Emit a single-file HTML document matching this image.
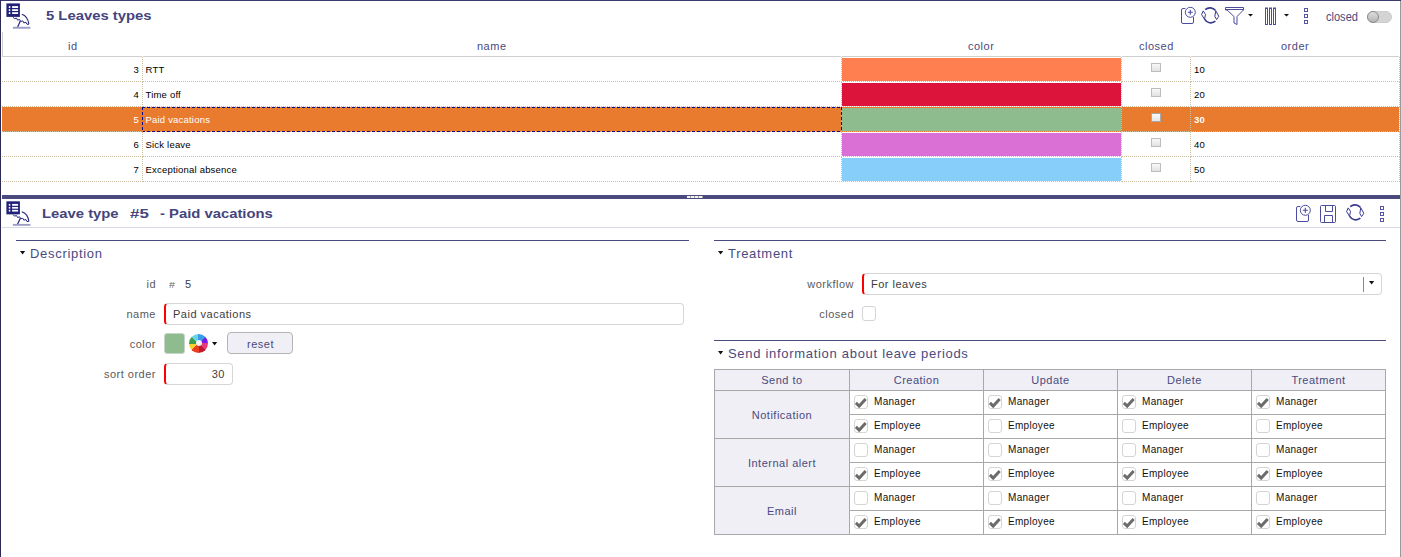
<!DOCTYPE html>
<html><head><meta charset="utf-8">
<style>
*{margin:0;padding:0;box-sizing:border-box}
html,body{width:1401px;height:557px;overflow:hidden;background:#fff;font-family:"Liberation Sans",sans-serif}
.a{position:absolute}
.t{position:absolute;white-space:nowrap;line-height:1}
.hdr{font-size:11px;letter-spacing:0.5px;padding-top:1px;color:#4a4a80}
.cell{font-size:9.5px;letter-spacing:0.2px;color:#000}
.dotv{position:absolute;width:1px;background-image:linear-gradient(#cbc1a2 50%,transparent 50%);background-size:1px 2px}
.doth{position:absolute;height:1px;background-image:linear-gradient(90deg,#cbc1a2 50%,transparent 50%);background-size:2px 1px}
.cb{position:absolute;width:10px;height:9px;border:1px solid #bdbdbd;background:linear-gradient(#f8f8f8,#e2e2e2)}
.lbl{font-size:11px;letter-spacing:0.5px;padding-top:1px;color:#5a5a5a}
.sec{font-size:13px;color:#4a4a80;letter-spacing:0.7px}
.tri{position:absolute;width:0;height:0;border-left:2.5px solid transparent;border-right:2.5px solid transparent;border-top:4px solid #111}
.inp{position:absolute;border:1px solid #d6d6d6;border-radius:3px;background:#fff}
.req{border-left:2px solid #f00;border-radius:4px}
.chk{position:absolute;width:14px;height:14px;border:1px solid #d4d4d4;border-radius:3px;background:#fff}
.ml{font-size:10px;letter-spacing:0.3px;color:#111}
.ttl{font-size:13px;font-weight:bold;color:#45457d;transform:scaleX(1.14);transform-origin:0 0}
</style></head><body>
<svg width="0" height="0" style="position:absolute">
<defs>
<symbol id="logo" viewBox="0 0 30 30" preserveAspectRatio="none">
  <rect x="2.4" y="2.4" width="13.5" height="13.5" fill="#21217a"/>
  <rect x="4.8" y="5.1" width="1.5" height="1.9" fill="#fff"/><rect x="8.1" y="5.1" width="6" height="1.9" fill="#fff"/>
  <rect x="4.8" y="8.2" width="1.5" height="1.8" fill="#fff"/><rect x="8.1" y="8.2" width="6" height="1.8" fill="#fff"/>
  <rect x="4.8" y="11.2" width="1.5" height="1.8" fill="#fff"/><rect x="8.1" y="11.2" width="6" height="1.8" fill="#fff"/>
  <path d="M17.8 13.3 Q23.6 15 24.9 23.2" fill="none" stroke="#25257a" stroke-width="1.1"/>
  <path d="M9.2 16.2 L10.4 17.7 L12.5 17.1 L13.5 19.1 L15.7 18.5 L16.7 20.5 L18.8 19.9 L19.8 21.9 L22.0 21.3 L23.0 23.3 L24.9 23.2" fill="none" stroke="#25257a" stroke-width="1"/>
  <path d="M16.3 19.9 L13.2 26.9" stroke="#25257a" stroke-width="1.2"/>
  <rect x="8.9" y="25.8" width="17.5" height="1.9" fill="#9c9cc8"/>
</symbol>
<symbol id="refresh" viewBox="0 0 26 23">
  <g fill="none" stroke="#3a3a90" stroke-linejoin="round">
   <path d="M7.2 5.6 A7.3 7.3 0 0 1 17.6 6.6" stroke-width="1.6"/>
   <path d="M17.8 6.8 L20.8 12.3 L18.6 15.6 L16.8 12.3 Z" stroke-width="1"/>
   <path d="M17.4 17.2 A7.3 7.3 0 0 1 6.5 15.2" stroke-width="1.6"/>
   <path d="M5.2 6.9 L7.5 10.4 L6.5 15.2 L3.6 10.6 Z" stroke-width="1"/>
  </g>
</symbol>
<symbol id="add" viewBox="0 0 20 21">
  <g fill="none" stroke="#4c4c9e" stroke-width="1">
   <path d="M5.3 4.5 H3 a1.5 1.5 0 0 0 -1.5 1.5 V18 a1.5 1.5 0 0 0 1.5 1.5 H12 a1.5 1.5 0 0 0 1.5 -1.5 V13"/>
   <circle cx="10.3" cy="8.3" r="5"/>
   <path d="M10.3 5.8 V10.8 M7.8 8.3 H12.8" stroke-width="1.1"/>
  </g>
</symbol>
<symbol id="dots" viewBox="0 0 6 18">
  <g fill="none" stroke="#5656a6" stroke-width="1">
   <rect x="0.5" y="0.5" width="3" height="3"/><rect x="0.5" y="6.5" width="3" height="3"/><rect x="0.5" y="12.5" width="3" height="3"/>
  </g>
</symbol>
<symbol id="tick" viewBox="0 0 14 14"><path d="M1.9 7.9 L5.2 11.1 L11.7 4" fill="none" stroke="#6b6b6b" stroke-width="2.9"/></symbol>
</defs></svg>

<div class="a" style="left:0;top:0;width:1401px;height:1px;background:#3a3a6e"></div>
<div class="a" style="left:0;top:0;width:1px;height:557px;background:#2a2a55"></div>
<div class="a" style="left:1400px;top:1px;width:1px;height:556px;background:#9a9a9a"></div>
<svg class="a" style="left:4px;top:1px" width="30" height="30"><use href="#logo"/></svg>
<div class="t ttl" style="left:46px;top:9px">5 Leaves types</div>
<svg class="a" style="left:1178px;top:4px" width="135" height="24" viewBox="0 0 135 24">
  <g fill="none" stroke="#4c4c9e" stroke-width="1">
    <path d="M47.5 3.5 H65.5 V6 L59 12.5 V20.5 L56 19 V12.5 L49 6 H47.5 Z"/>
    <path d="M48 5.5 H65"/>
    <rect x="87.5" y="4" width="2" height="16.5"/>
    <rect x="91.5" y="4" width="2" height="16.5"/>
    <rect x="95.5" y="4" width="2" height="16.5"/>
  </g>
  <path d="M70 10 h5 l-2.5 2.5z M106 10 h5 l-2.5 2.5z" fill="#111"/>
</svg>
<svg class="a" style="left:1180px;top:4px" width="20" height="21"><use href="#add"/></svg>
<svg class="a" style="left:1304px;top:8px" width="6" height="18"><use href="#dots"/></svg>
<svg class="a" style="left:1198px;top:4px" width="26" height="23"><use href="#refresh"/></svg>
<div class="t" style="left:1326px;top:11px;font-size:12px;color:#4a4a80;transform:scaleX(0.92);transform-origin:0 0">closed</div>
<div class="a" style="left:1367px;top:11px;width:25px;height:12px;border-radius:6px;background:#d4d4d4;border:1px solid #cdcdcd"></div>
<div class="a" style="left:1367px;top:11px;width:12px;height:12px;border-radius:50%;background:linear-gradient(#dedede,#b4b4b4);border:1px solid #8a8a8a"></div>
<div class="a" style="left:2px;top:32px;width:1px;height:25px;background:#cfcfcf"></div>
<div class="a" style="left:2px;top:56px;width:1397px;height:1px;background:#cfcfcf"></div>
<div class="a" style="left:142px;top:56px;width:1px;height:1px;background:#fff"></div>
<div class="a" style="left:841px;top:56px;width:1px;height:1px;background:#fff"></div>
<div class="a" style="left:1121px;top:56px;width:1px;height:1px;background:#fff"></div>
<div class="a" style="left:1190px;top:56px;width:1px;height:1px;background:#fff"></div>
<div class="a" style="left:1399px;top:56px;width:1px;height:1px;background:#fff"></div>
<div class="t hdr" style="left:68px;top:40px">id</div>
<div class="t hdr" style="left:477px;top:40px">name</div>
<div class="t hdr" style="left:968px;top:40px">color</div>
<div class="t hdr" style="left:1139px;top:40px">closed</div>
<div class="t hdr" style="left:1281px;top:40px">order</div>
<div class="a" style="left:2px;top:107px;width:1397px;height:25px;background:#e87b2e"></div>
<div class="a" style="left:842px;top:58px;width:279px;height:23px;background:#ff7f50"></div>
<div class="a" style="left:842px;top:83px;width:279px;height:23px;background:#dc143c"></div>
<div class="a" style="left:842px;top:108px;width:279px;height:23px;background:#8fbc8f"></div>
<div class="a" style="left:842px;top:133px;width:279px;height:23px;background:#da70d6"></div>
<div class="a" style="left:842px;top:158px;width:279px;height:23px;background:#87cefa"></div>
<div class="doth" style="left:2px;top:81px;width:140px"></div>
<div class="doth" style="left:143px;top:81px;width:979px"></div>
<div class="doth" style="left:1122px;top:81px;width:69px"></div>
<div class="doth" style="left:1191px;top:81px;width:209px"></div>
<div class="dotv" style="left:142px;top:57px;height:25px"></div>
<div class="dotv" style="left:841px;top:57px;height:25px"></div>
<div class="dotv" style="left:1121px;top:57px;height:25px"></div>
<div class="dotv" style="left:1190px;top:57px;height:25px"></div>
<div class="dotv" style="left:1399px;top:57px;height:25px"></div>
<div class="doth" style="left:2px;top:106px;width:140px"></div>
<div class="doth" style="left:143px;top:106px;width:979px"></div>
<div class="doth" style="left:1122px;top:106px;width:69px"></div>
<div class="doth" style="left:1191px;top:106px;width:209px"></div>
<div class="dotv" style="left:142px;top:82px;height:25px"></div>
<div class="dotv" style="left:841px;top:82px;height:25px"></div>
<div class="dotv" style="left:1121px;top:82px;height:25px"></div>
<div class="dotv" style="left:1190px;top:82px;height:25px"></div>
<div class="dotv" style="left:1399px;top:82px;height:25px"></div>
<div class="doth" style="left:2px;top:131px;width:140px"></div>
<div class="doth" style="left:143px;top:131px;width:979px"></div>
<div class="doth" style="left:1122px;top:131px;width:69px"></div>
<div class="doth" style="left:1191px;top:131px;width:209px"></div>
<div class="dotv" style="left:142px;top:107px;height:25px"></div>
<div class="dotv" style="left:841px;top:107px;height:25px"></div>
<div class="dotv" style="left:1121px;top:107px;height:25px"></div>
<div class="dotv" style="left:1190px;top:107px;height:25px"></div>
<div class="dotv" style="left:1399px;top:107px;height:25px"></div>
<div class="doth" style="left:2px;top:156px;width:140px"></div>
<div class="doth" style="left:143px;top:156px;width:979px"></div>
<div class="doth" style="left:1122px;top:156px;width:69px"></div>
<div class="doth" style="left:1191px;top:156px;width:209px"></div>
<div class="dotv" style="left:142px;top:132px;height:25px"></div>
<div class="dotv" style="left:841px;top:132px;height:25px"></div>
<div class="dotv" style="left:1121px;top:132px;height:25px"></div>
<div class="dotv" style="left:1190px;top:132px;height:25px"></div>
<div class="dotv" style="left:1399px;top:132px;height:25px"></div>
<div class="doth" style="left:2px;top:181px;width:140px"></div>
<div class="doth" style="left:143px;top:181px;width:979px"></div>
<div class="doth" style="left:1122px;top:181px;width:69px"></div>
<div class="doth" style="left:1191px;top:181px;width:209px"></div>
<div class="dotv" style="left:142px;top:157px;height:25px"></div>
<div class="dotv" style="left:841px;top:157px;height:25px"></div>
<div class="dotv" style="left:1121px;top:157px;height:25px"></div>
<div class="dotv" style="left:1190px;top:157px;height:25px"></div>
<div class="dotv" style="left:1399px;top:157px;height:25px"></div>
<div class="a" style="left:142px;top:107px;width:700px;height:1px;background-image:linear-gradient(90deg,#0b0b8a 60%,transparent 60%);background-size:5px 1px"></div>
<div class="a" style="left:142px;top:131px;width:700px;height:1px;background-image:linear-gradient(90deg,#0b0b8a 60%,transparent 60%);background-size:5px 1px"></div>
<div class="a" style="left:142px;top:107px;width:1px;height:25px;background:#e87b2e"></div>
<div class="a" style="left:142px;top:107px;width:1px;height:25px;background-image:linear-gradient(#0b0b8a 60%,transparent 60%);background-size:1px 5px"></div>
<div class="a" style="left:841px;top:107px;width:1px;height:25px;background-image:linear-gradient(#0b0b8a 60%,transparent 60%);background-size:1px 5px"></div>
<div class="t cell" style="right:1262px;top:64.5px;color:#000">3</div>
<div class="t cell" style="left:145.5px;top:64.5px;color:#000">RTT</div>
<div class="cb" style="left:1151px;top:63px"></div>
<div class="t cell" style="left:1194px;top:64.5px;color:#000;">10</div>
<div class="t cell" style="right:1262px;top:89.5px;color:#000">4</div>
<div class="t cell" style="left:145.5px;top:89.5px;color:#000">Time off</div>
<div class="cb" style="left:1151px;top:88px"></div>
<div class="t cell" style="left:1194px;top:89.5px;color:#000;">20</div>
<div class="t cell" style="right:1262px;top:114.5px;color:#fff">5</div>
<div class="t cell" style="left:145.5px;top:114.5px;color:#fff">Paid vacations</div>
<div class="cb" style="left:1151px;top:113px;border-color:#a8a8a8;background:linear-gradient(#fafafa,#e6e6e6)"></div>
<div class="t cell" style="left:1194px;top:114.5px;color:#fff;font-weight:bold;">30</div>
<div class="t cell" style="right:1262px;top:139.5px;color:#000">6</div>
<div class="t cell" style="left:145.5px;top:139.5px;color:#000">Sick leave</div>
<div class="cb" style="left:1151px;top:138px"></div>
<div class="t cell" style="left:1194px;top:139.5px;color:#000;">40</div>
<div class="t cell" style="right:1262px;top:164.5px;color:#000">7</div>
<div class="t cell" style="left:145.5px;top:164.5px;color:#000">Exceptional absence</div>
<div class="cb" style="left:1151px;top:163px"></div>
<div class="t cell" style="left:1194px;top:164.5px;color:#000;">50</div>
<div class="a" style="left:2px;top:195px;width:1398px;height:4px;background:#4a4a7e"></div>
<div class="a" style="left:687px;top:196px;width:16px;height:2px;background-image:linear-gradient(90deg,#f4f4f4 75%,#a0a0a0 75%);background-size:4px 2px"></div>
<svg class="a" style="left:4px;top:199px" width="30" height="29"><use href="#logo" width="30" height="29"/></svg>
<div class="t ttl" style="left:42px;top:207px">Leave type</div>
<div class="t ttl" style="left:130px;top:207px;transform:scaleX(1.3)">#5</div>
<div class="t ttl" style="left:160px;top:207px">- Paid vacations</div>
<svg class="a" style="left:1320px;top:205px" width="18" height="20" viewBox="0 0 18 20">
  <g fill="none" stroke="#4c4c9e" stroke-width="1">
    <rect x="0.5" y="0.5" width="15" height="17" rx="1"/>
    <path d="M5.5 0.5 V6.5 H12.5 V0.5 M4.5 17.5 V10.5 H12.5 V17.5"/>
  </g>
</svg>
<svg class="a" style="left:1295px;top:202px" width="20" height="21"><use href="#add"/></svg>
<svg class="a" style="left:1380px;top:206px" width="6" height="18"><use href="#dots"/></svg>
<svg class="a" style="left:1343px;top:201px" width="26" height="23"><use href="#refresh"/></svg>
<div class="a" style="left:2px;top:227px;width:1398px;height:1px;background:#d8d8e8"></div>
<div class="a" style="left:16px;top:240px;width:673px;height:1px;background:#4a4a7e"></div>
<svg class="a" style="left:20px;top:251px" width="6" height="4"><path d="M0 0H5.2L2.6 3.6Z" fill="#111"/></svg>
<div class="t sec" style="left:30px;top:247px">Description</div>
<div class="t lbl" style="right:1245px;top:278px">id</div>
<div class="t" style="left:169px;top:280.5px;font-size:8.5px;color:#666;transform:scaleX(1.25);transform-origin:0 0">#</div>
<div class="t" style="left:185px;top:278px;font-size:11px;letter-spacing:0.5px;padding-top:1px;color:#3c3c3c">5</div>
<div class="t lbl" style="right:1245px;top:308px">name</div>
<div class="inp req" style="left:164px;top:303px;width:520px;height:22px"></div>
<div class="t" style="left:173px;top:308px;font-size:11px;letter-spacing:0.5px;padding-top:1px;color:#3c3c3c">Paid vacations</div>
<div class="t lbl" style="right:1245px;top:338px">color</div>
<div class="a" style="left:164px;top:333px;width:21px;height:21px;background:#8fbc8f;border:1px solid #c8d4c8;border-radius:3px"></div>
<div class="a" style="left:189px;top:333.5px;width:19px;height:19px;border-radius:50%;background:conic-gradient(#3a9be8 0 45deg,#7a1ae8 45deg 90deg,#e83a78 90deg 135deg,#c01830 135deg 180deg,#e83e1e 180deg 225deg,#f8d030 225deg 270deg,#3e9e4e 270deg 315deg,#6ad4e6 315deg 360deg)"></div>
<div class="a" style="left:195.5px;top:340px;width:6px;height:6px;border-radius:50%;background:radial-gradient(circle at 50% 40%,#fafafa,#dfe4ea)"></div>
<svg class="a" style="left:212px;top:342px" width="6" height="4"><path d="M0 0H5.2L2.6 3.6Z" fill="#111"/></svg>
<div class="a" style="left:227px;top:332px;width:66px;height:22px;background:#efeff5;border:1px solid #b4b4b4;border-radius:4px"></div>
<div class="t" style="left:247px;top:338px;font-size:11px;letter-spacing:0.5px;padding-top:1px;color:#4a4a80">reset</div>
<div class="t lbl" style="right:1245px;top:368px">sort order</div>
<div class="inp req" style="left:164px;top:363px;width:69px;height:22px"></div>
<div class="t" style="right:1176px;top:368px;font-size:11px;letter-spacing:0.5px;padding-top:1px;color:#3c3c3c">30</div>
<div class="a" style="left:714px;top:240px;width:672px;height:1px;background:#4a4a7e"></div>
<svg class="a" style="left:718px;top:251px" width="6" height="4"><path d="M0 0H5.2L2.6 3.6Z" fill="#111"/></svg>
<div class="t sec" style="left:728px;top:247px">Treatment</div>
<div class="t lbl" style="right:547px;top:278px">workflow</div>
<div class="inp req" style="left:862px;top:273px;width:520px;height:22px"></div>
<div class="t" style="left:871px;top:278px;font-size:11px;letter-spacing:0.5px;padding-top:1px;color:#3c3c3c">For leaves</div>
<div class="a" style="left:1363px;top:277px;width:1px;height:15px;background:#8a8a8a"></div>
<svg class="a" style="left:1369px;top:281px" width="6" height="4"><path d="M0 0H5.2L2.6 3.6Z" fill="#111"/></svg>
<div class="t lbl" style="right:547px;top:308px">closed</div>
<div class="chk" style="left:862px;top:306px;width:14px;height:15px"></div>
<div class="a" style="left:714px;top:340px;width:672px;height:1px;background:#4a4a7e"></div>
<svg class="a" style="left:718px;top:351px" width="6" height="4"><path d="M0 0H5.2L2.6 3.6Z" fill="#111"/></svg>
<div class="t sec" style="left:728px;top:347px">Send information about leave periods</div>
<div class="a" style="left:714px;top:369px;width:672px;height:22px;background:#efeff5"></div>
<div class="a" style="left:714px;top:390px;width:136px;height:145px;background:#efeff5"></div>
<div class="a" style="left:714px;top:369px;width:1px;height:166px;background:#a8a8a8"></div>
<div class="a" style="left:849px;top:369px;width:1px;height:166px;background:#a8a8a8"></div>
<div class="a" style="left:983px;top:369px;width:1px;height:166px;background:#a8a8a8"></div>
<div class="a" style="left:1117px;top:369px;width:1px;height:166px;background:#a8a8a8"></div>
<div class="a" style="left:1251px;top:369px;width:1px;height:166px;background:#a8a8a8"></div>
<div class="a" style="left:1385px;top:369px;width:1px;height:166px;background:#a8a8a8"></div>
<div class="a" style="left:714px;top:369px;width:672px;height:1px;background:#a8a8a8"></div>
<div class="a" style="left:714px;top:390px;width:672px;height:1px;background:#a8a8a8"></div>
<div class="a" style="left:714px;top:438px;width:672px;height:1px;background:#a8a8a8"></div>
<div class="a" style="left:714px;top:486px;width:672px;height:1px;background:#a8a8a8"></div>
<div class="a" style="left:714px;top:534px;width:672px;height:1px;background:#a8a8a8"></div>
<div class="a" style="left:849px;top:414px;width:537px;height:1px;background:#a8a8a8"></div>
<div class="a" style="left:849px;top:462px;width:537px;height:1px;background:#a8a8a8"></div>
<div class="a" style="left:849px;top:510px;width:537px;height:1px;background:#a8a8a8"></div>
<div class="t hdr" style="left:715px;width:134px;text-align:center;top:374px">Send to</div>
<div class="t hdr" style="left:850px;width:133px;text-align:center;top:374px">Creation</div>
<div class="t hdr" style="left:984px;width:133px;text-align:center;top:374px">Update</div>
<div class="t hdr" style="left:1118px;width:133px;text-align:center;top:374px">Delete</div>
<div class="t hdr" style="left:1252px;width:133px;text-align:center;top:374px">Treatment</div>
<div class="t hdr" style="left:715px;width:134px;text-align:center;top:409px">Notification</div>
<div class="t hdr" style="left:715px;width:134px;text-align:center;top:457px">Internal alert</div>
<div class="t hdr" style="left:715px;width:134px;text-align:center;top:505px">Email</div>
<div class="chk" style="left:854px;top:395px"></div>
<svg class="a" style="left:854px;top:395px" width="14" height="14"><use href="#tick"/></svg>
<div class="t ml" style="left:874px;top:397px">Manager</div>
<div class="chk" style="left:988px;top:395px"></div>
<svg class="a" style="left:988px;top:395px" width="14" height="14"><use href="#tick"/></svg>
<div class="t ml" style="left:1008px;top:397px">Manager</div>
<div class="chk" style="left:1122px;top:395px"></div>
<svg class="a" style="left:1122px;top:395px" width="14" height="14"><use href="#tick"/></svg>
<div class="t ml" style="left:1142px;top:397px">Manager</div>
<div class="chk" style="left:1256px;top:395px"></div>
<svg class="a" style="left:1256px;top:395px" width="14" height="14"><use href="#tick"/></svg>
<div class="t ml" style="left:1276px;top:397px">Manager</div>
<div class="chk" style="left:854px;top:419px"></div>
<svg class="a" style="left:854px;top:419px" width="14" height="14"><use href="#tick"/></svg>
<div class="t ml" style="left:874px;top:421px">Employee</div>
<div class="chk" style="left:988px;top:419px"></div>
<div class="t ml" style="left:1008px;top:421px">Employee</div>
<div class="chk" style="left:1122px;top:419px"></div>
<div class="t ml" style="left:1142px;top:421px">Employee</div>
<div class="chk" style="left:1256px;top:419px"></div>
<div class="t ml" style="left:1276px;top:421px">Employee</div>
<div class="chk" style="left:854px;top:443px"></div>
<div class="t ml" style="left:874px;top:445px">Manager</div>
<div class="chk" style="left:988px;top:443px"></div>
<div class="t ml" style="left:1008px;top:445px">Manager</div>
<div class="chk" style="left:1122px;top:443px"></div>
<div class="t ml" style="left:1142px;top:445px">Manager</div>
<div class="chk" style="left:1256px;top:443px"></div>
<div class="t ml" style="left:1276px;top:445px">Manager</div>
<div class="chk" style="left:854px;top:467px"></div>
<svg class="a" style="left:854px;top:467px" width="14" height="14"><use href="#tick"/></svg>
<div class="t ml" style="left:874px;top:469px">Employee</div>
<div class="chk" style="left:988px;top:467px"></div>
<svg class="a" style="left:988px;top:467px" width="14" height="14"><use href="#tick"/></svg>
<div class="t ml" style="left:1008px;top:469px">Employee</div>
<div class="chk" style="left:1122px;top:467px"></div>
<svg class="a" style="left:1122px;top:467px" width="14" height="14"><use href="#tick"/></svg>
<div class="t ml" style="left:1142px;top:469px">Employee</div>
<div class="chk" style="left:1256px;top:467px"></div>
<svg class="a" style="left:1256px;top:467px" width="14" height="14"><use href="#tick"/></svg>
<div class="t ml" style="left:1276px;top:469px">Employee</div>
<div class="chk" style="left:854px;top:491px"></div>
<div class="t ml" style="left:874px;top:493px">Manager</div>
<div class="chk" style="left:988px;top:491px"></div>
<div class="t ml" style="left:1008px;top:493px">Manager</div>
<div class="chk" style="left:1122px;top:491px"></div>
<div class="t ml" style="left:1142px;top:493px">Manager</div>
<div class="chk" style="left:1256px;top:491px"></div>
<div class="t ml" style="left:1276px;top:493px">Manager</div>
<div class="chk" style="left:854px;top:515px"></div>
<svg class="a" style="left:854px;top:515px" width="14" height="14"><use href="#tick"/></svg>
<div class="t ml" style="left:874px;top:517px">Employee</div>
<div class="chk" style="left:988px;top:515px"></div>
<svg class="a" style="left:988px;top:515px" width="14" height="14"><use href="#tick"/></svg>
<div class="t ml" style="left:1008px;top:517px">Employee</div>
<div class="chk" style="left:1122px;top:515px"></div>
<svg class="a" style="left:1122px;top:515px" width="14" height="14"><use href="#tick"/></svg>
<div class="t ml" style="left:1142px;top:517px">Employee</div>
<div class="chk" style="left:1256px;top:515px"></div>
<svg class="a" style="left:1256px;top:515px" width="14" height="14"><use href="#tick"/></svg>
<div class="t ml" style="left:1276px;top:517px">Employee</div>
</body></html>
